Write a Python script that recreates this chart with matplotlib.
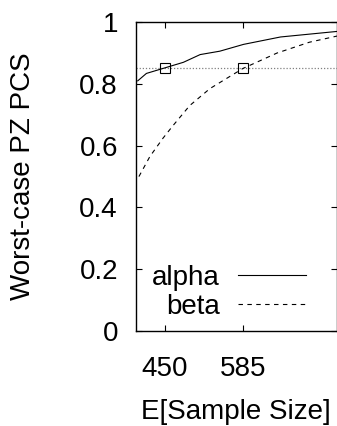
import matplotlib
matplotlib.use("Agg")
import matplotlib.pyplot as plt

plt.rcParams['font.family'] = ['Liberation Sans', 'DejaVu Sans']

# values
alpha_x = [403, 418, 450, 482, 511, 545, 586, 650, 748]
alpha_y = [0.81, 0.834, 0.852, 0.87, 0.895, 0.906, 0.928, 0.952, 0.97]
beta_x = [405, 424, 447, 464, 493, 528, 585, 644, 700, 748]
beta_y = [0.50, 0.565, 0.625, 0.665, 0.73, 0.785, 0.85, 0.90, 0.935, 0.955]
target = 0.85
marked_x = [450, 585]
xticks = [450, 585]
yticks = [0, 0.2, 0.4, 0.6, 0.8, 1]
yticklabels = ['0', '0.2', '0.4', '0.6', '0.8', '1']

fig = plt.figure(figsize=(3.37, 4.26), dpi=100)
ax = fig.add_axes([0.4036, 0.223, 0.595, 0.725])

ax.axhline(target, color='#808080', linestyle=(0, (1, 1.5)), linewidth=0.9, zorder=1)
ax.plot(alpha_x, alpha_y, color='black', linewidth=0.8, label='alpha')
ax.plot(beta_x, beta_y, color='black', linewidth=0.8, linestyle=(0, (4, 4)), label='beta')
ax.plot(marked_x, [target] * len(marked_x), linestyle='none', marker='s', markersize=7.7,
        markerfacecolor='none', markeredgecolor='black', markeredgewidth=0.8, zorder=3)

ax.set_xlim(400, 747)
ax.set_ylim(0, 1)
ax.set_xticks(xticks)
ax.set_xticklabels([str(v) for v in xticks])
ax.set_yticks(yticks)
ax.set_yticklabels(yticklabels)
ax.tick_params(direction='in', length=4.3, width=0.8, labelsize=20,
               top=True, right=True)
ax.tick_params(axis='y', pad=13)
ax.tick_params(axis='x', pad=18)
for s in ax.spines.values():
    s.set_linewidth(1.0)

ax.set_xlabel('E[Sample Size]', fontsize=20, labelpad=12)
ax.set_ylabel('Worst-case PZ PCS', fontsize=20, labelpad=31)

ax.legend(loc='lower right', bbox_to_anchor=(0.846, 0.035), frameon=False, markerfirst=False,
          fontsize=20, handlelength=2.45, handletextpad=0.64, labelspacing=0.12,
          borderpad=0, borderaxespad=0)

fig.savefig('out.png', dpi=100)
